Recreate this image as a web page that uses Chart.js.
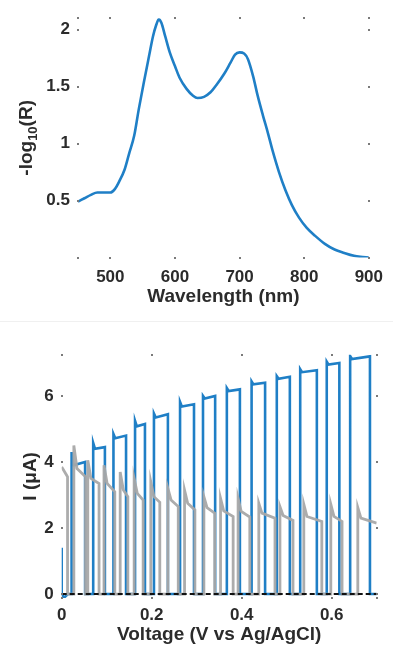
<!DOCTYPE html>
<html>
<head>
<meta charset="utf-8">
<script src="https://cdn.jsdelivr.net/npm/chart.js@4.4.1/dist/chart.umd.min.js"></script>
<style>
  html, body { margin: 0; padding: 0; background: #fff; }
  #wrap { position: relative; width: 393px; height: 655px; overflow: hidden; }
  canvas { position: absolute; left: 0; }
  #spectrum { top: 0; }
  #chopped { top: 320px; }
  #rule { position: absolute; left: 0; top: 321px; width: 393px; height: 1px; background: #f0f0f0; }
</style>
</head>
<body>
<div id="wrap">
  <canvas id="spectrum" width="393" height="320"></canvas>
  <div id="rule"></div>
  <canvas id="chopped" width="393" height="335"></canvas>
</div>
<script>
// ===== TOP PANEL: reflectance spectrum =====
const wavelength = [450, 460, 470, 480, 490, 500, 507, 514, 522, 529, 537, 544, 552, 560, 566, 571,
    575, 579, 585, 592, 600, 607, 618, 628, 635, 645, 655, 665, 676, 686, 693, 700, 707, 713, 721,
    728, 736, 744, 751, 761, 771, 781, 792, 804, 817, 832, 847, 862, 877, 887, 900];
const absorb = [0.49, 0.52, 0.55, 0.57, 0.57, 0.57, 0.60, 0.67, 0.77, 0.91, 1.07, 1.30, 1.54, 1.77, 1.94, 2.04,
    2.09, 2.06, 1.94, 1.80, 1.68, 1.58, 1.48, 1.42, 1.40, 1.41, 1.45, 1.52, 1.61, 1.71, 1.78, 1.80, 1.79, 1.74, 1.59,
    1.42, 1.25, 1.09, 0.94, 0.75, 0.59, 0.46, 0.35, 0.26, 0.19, 0.12, 0.07, 0.04, 0.015, 0.006, 0.0];
const wlTicks = [500, 600, 700, 800, 900];
const absTicks = [0.5, 1, 1.5, 2];

// ===== BOTTOM PANEL: chopped-light photocurrent =====
// illuminated electrode (blue): one entry per light pulse
const blueOn    = [0.022, 0.070, 0.115, 0.163, 0.205, 0.263, 0.314, 0.367, 0.422, 0.478, 0.530, 0.589, 0.641];
const blueOff   = [0.052, 0.096, 0.143, 0.185, 0.236, 0.294, 0.341, 0.396, 0.452, 0.507, 0.567, 0.617, 0.685];
const bluePeak  = [4.30, 4.58, 4.85, 5.25, 5.47, 5.82, 6.00, 6.24, 6.44, 6.60, 6.81, 7.04, 7.21];
const blueLevel = [3.90, 4.40, 4.72, 5.08, 5.35, 5.68, 5.92, 6.15, 6.35, 6.52, 6.72, 6.95, 7.12];
const blueEnd   = [4.00, 4.45, 4.80, 5.15, 5.45, 5.75, 6.00, 6.20, 6.40, 6.58, 6.78, 7.00, 7.20];
const blueLeadV = [0, 0, 0.006, 0.014];
const blueLeadI = [1.4, -0.02, -0.1, 0];

// reference electrode (gray)
const grayOn    = [0.027, 0.058, 0.094, 0.130, 0.161, 0.198, 0.236, 0.273, 0.316, 0.353, 0.392, 0.438, 0.485, 0.538, 0.598, 0.658];
const grayOff   = [0.053, 0.083, 0.118, 0.147, 0.181, 0.218, 0.259, 0.296, 0.340, 0.381, 0.418, 0.474, 0.514, 0.578, 0.623, 0.700];
const grayPeak  = [4.50, 4.05, 3.90, 3.70, 3.50, 3.40, 3.20, 3.15, 2.95, 2.90, 2.90, 2.75, 2.65, 2.72, 2.72, 2.62];
const grayKnee  = [3.80, 3.50, 3.35, 3.15, 3.05, 2.95, 2.85, 2.75, 2.62, 2.52, 2.50, 2.45, 2.38, 2.35, 2.35, 2.30];
const grayLevel = [3.55, 3.35, 3.10, 2.95, 2.85, 2.78, 2.65, 2.55, 2.45, 2.35, 2.33, 2.30, 2.23, 2.20, 2.20, 2.15];
const grayLeadV = [0, 0.010, 0.013, 0.013];
const grayLeadI = [3.85, 3.62, 3.55, 0];

// dark current (black dashed)
const darkV = [0, 0.7];
const darkI = [0, 0];

const voltTicks = [0, 0.2, 0.4, 0.6];
const currTicks = [0, 2, 4, 6];

// ===== STYLE =====
const FONT = "'Liberation Sans', Arial, sans-serif";
const INK = '#2b2b2b';
const BLUE = '#1f7fc6';
const GRAY = 'rgba(168, 168, 168, 0.95)';

// build a step trace from the per-pulse tables
function pulseTrace(leadV, leadI, on, off, peak, knee, end, spike, vMax) {
    const pts = leadV.map((v, i) => ({ x: v, y: leadI[i] }));
    on.forEach((v, i) => {
        pts.push({ x: v, y: 0 }, { x: v, y: peak[i] }, { x: v + spike, y: knee[i] }, { x: off[i], y: end[i] });
        if (off[i] < vMax) pts.push({ x: off[i], y: 0 });
    });
    if (off[off.length - 1] < vMax) pts.push({ x: vMax, y: 0 });
    return pts;
}

function axis(dir, min, max, ticks, size, pad) {
    return {
        type: 'linear',
        min: min,
        max: max,
        grid: { display: false, drawTicks: false, tickLength: 0 },
        border: { display: false },
        afterBuildTicks: s => { s.ticks = ticks.map(v => ({ value: v })); },
        afterFit: s => { if (dir === 'x') s.height = size; else s.width = size; },
        ticks: {
            color: INK,
            padding: pad,
            maxRotation: 0,
            autoSkip: false,
            font: { family: FONT, size: 17, weight: 'bold' },
            callback: v => String(v)
        }
    };
}

// tick dots round the box + axis titles (y title may carry a subscript)
const frame = {
    id: 'frame',
    afterDraw(chart, args, o) {
        const { ctx, chartArea: a } = chart;
        const sx = chart.scales.x, sy = chart.scales.y;
        ctx.save();
        ctx.fillStyle = '#7a7a7a';
        const dot = (x, y) => ctx.fillRect(Math.round(x) - 1, Math.round(y) - 1, 2, 2);
        const xs = [a.left, a.right].concat(sx.ticks.map(t => sx.getPixelForValue(t.value)));
        const ys = [a.top, a.bottom].concat(sy.ticks.map(t => sy.getPixelForValue(t.value)));
        xs.forEach(x => { dot(x, a.top); dot(x, a.bottom); });
        ys.forEach(y => { dot(a.left, y); dot(a.right, y); });

        ctx.fillStyle = INK;
        ctx.textBaseline = 'middle';
        ctx.textAlign = 'center';
        ctx.font = 'bold 19px ' + FONT;
        ctx.fillText(o.xTitle, (a.left + a.right) / 2, o.xTitleY);

        ctx.translate(o.yTitleX, (a.top + a.bottom) / 2);
        ctx.rotate(-Math.PI / 2);
        ctx.textAlign = 'left';
        let w = 0;
        o.yTitle.forEach(p => {
            ctx.font = 'bold ' + p.size + 'px ' + FONT;
            p.w = ctx.measureText(p.text).width;
            w += p.w;
        });
        let x = -w / 2;
        o.yTitle.forEach(p => {
            ctx.font = 'bold ' + p.size + 'px ' + FONT;
            ctx.fillText(p.text, x, p.drop || 0);
            x += p.w;
        });
        ctx.restore();
    }
};

const base = {
    responsive: false,
    animation: false,
    events: []
};

// ===== SPECTRUM =====
new Chart(document.getElementById('spectrum'), {
    type: 'line',
    data: {
        datasets: [{
            data: wavelength.map((w, i) => ({ x: w, y: absorb[i] })),
            borderColor: BLUE,
            borderWidth: 2.6,
            pointRadius: 0,
            cubicInterpolationMode: 'monotone',
            fill: false
        }]
    },
    options: Object.assign({}, base, {
        layout: { padding: { left: 0, top: 15, right: 18, bottom: 0 } },
        plugins: {
            legend: { display: false },
            tooltip: { enabled: false },
            frame: {
                xTitle: 'Wavelength (nm)',
                xTitleY: 297,
                yTitleX: 27,
                yTitle: [
                    { text: '-log', size: 19 },
                    { text: '10', size: 13, drop: 6 },
                    { text: '(R)', size: 19 }
                ]
            }
        },
        scales: {
            x: axis('x', 450, 900, wlTicks, 62.5, 10),
            y: axis('y', 0, 2.1, absTicks, 78, 8)
        }
    }),
    plugins: [frame]
});

// ===== PHOTOCURRENT =====
new Chart(document.getElementById('chopped'), {
    type: 'line',
    data: {
        datasets: [
            {
                data: darkV.map((v, i) => ({ x: v, y: darkI[i] })),
                borderColor: '#111',
                borderWidth: 2,
                borderDash: [5, 3],
                pointRadius: 0
            },
            {
                data: pulseTrace(grayLeadV, grayLeadI, grayOn, grayOff, grayPeak, grayKnee, grayLevel, 0.007, 0.7),
                borderColor: GRAY,
                borderWidth: 2.8,
                pointRadius: 0
            },
            {
                data: pulseTrace(blueLeadV, blueLeadI, blueOn, blueOff, bluePeak, blueLevel, blueEnd, 0.004, 0.7),
                borderColor: BLUE,
                borderWidth: 2.6,
                pointRadius: 0
            }
        ]
    },
    options: Object.assign({}, base, {
        layout: { padding: { left: 0, top: 34.7, right: 16.3, bottom: 0 } },
        plugins: {
            legend: { display: false },
            tooltip: { enabled: false },
            frame: {
                xTitle: 'Voltage (V vs Ag/AgCl)',
                xTitleY: 315,
                yTitleX: 31,
                yTitle: [{ text: 'I (\u03bcA)', size: 19 }]
            }
        },
        scales: {
            x: axis('x', 0, 0.7, voltTicks, 57, 7),
            y: axis('y', -0.12, 7.25, currTicks, 61.7, 8)
        }
    }),
    plugins: [frame]
});
</script>
</body>
</html>
